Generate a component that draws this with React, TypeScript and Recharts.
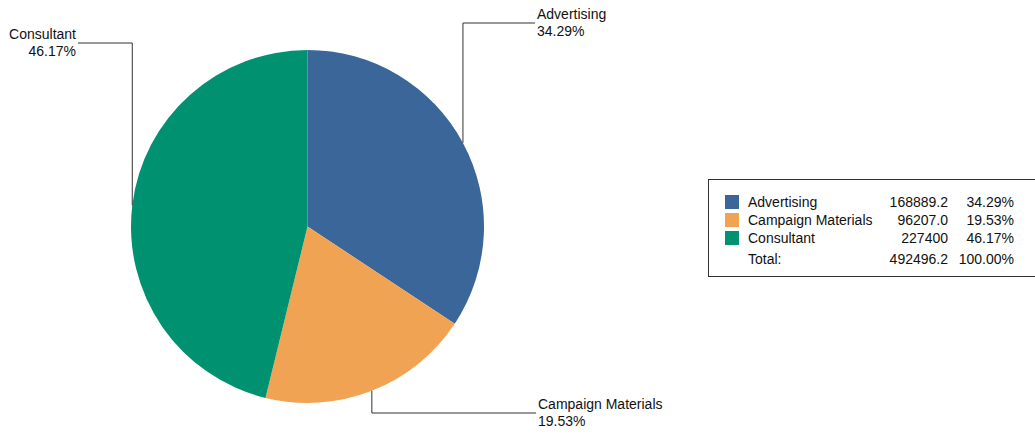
import { PieChart, Pie, Cell } from "recharts";

const categories = ["Advertising", "Campaign Materials", "Consultant"];
const amounts = [168889.2, 96207.0, 227400];
const amountLabels = ["168889.2", "96207.0", "227400"];
const colors = ["#3b6699", "#f0a453", "#009270"];

// how far the leader line runs: vertical end (y) and horizontal end (x)
const leaderEnds = [
  { y: 23, x: 535 },
  { y: 413, x: 536 },
  { y: 43, x: 78 },
];

const total = amounts.reduce((a, b) => a + b, 0);
const data = categories.map((name, i) => ({
  name,
  value: amounts[i],
  pct: ((amounts[i] / total) * 100).toFixed(2) + "%",
}));

const RADIAN = Math.PI / 180;
const font = "'Liberation Sans', Arial, sans-serif";

function renderLabel(props: any) {
  const { cx, cy, outerRadius, midAngle, index, payload } = props;
  const x0 = cx + outerRadius * Math.cos(-midAngle * RADIAN);
  const y0 = cy + outerRadius * Math.sin(-midAngle * RADIAN);
  const end = leaderEnds[index];
  const right = end.x > x0;
  const tx = right ? end.x + 2 : end.x - 2;
  return (
    <g key={`lbl-${index}`}>
      <polyline
        points={`${x0},${y0} ${x0},${end.y} ${end.x},${end.y}`}
        fill="none"
        stroke="#333"
        strokeWidth={1}
      />
      <text
        x={tx}
        y={end.y - 4}
        textAnchor={right ? "start" : "end"}
        fontSize={14}
        fill="#111"
        fontFamily={font}
      >
        {payload.name}
      </text>
      <text
        x={tx}
        y={end.y + 13}
        textAnchor={right ? "start" : "end"}
        fontSize={14}
        fill="#111"
        fontFamily={font}
      >
        {payload.pct}
      </text>
    </g>
  );
}

function LegendBox() {
  const cell: React.CSSProperties = { padding: 0, height: 18, lineHeight: "18px" };
  const last: React.CSSProperties = { ...cell, height: 24, lineHeight: "24px" };
  return (
    <div
      style={{
        position: "absolute",
        left: 708,
        top: 179,
        width: 335,
        height: 98,
        border: "1px solid #333",
        boxSizing: "border-box",
        fontFamily: font,
        fontSize: 14,
        color: "#111",
        background: "#fff",
      }}
    >
      <table style={{ borderCollapse: "collapse", marginLeft: 16, marginTop: 13 }}>
        <tbody>
          {data.map((d, i) => (
            <tr key={d.name}>
              <td style={{ ...cell, width: 23 }}>
                <div style={{ width: 14, height: 14, background: colors[i] }} />
              </td>
              <td style={{ ...cell, width: 128 }}>{d.name}</td>
              <td style={{ ...cell, width: 72, textAlign: "right" }}>{amountLabels[i]}</td>
              <td style={{ ...cell, width: 66, textAlign: "right" }}>{d.pct}</td>
            </tr>
          ))}
          <tr>
            <td style={last} />
            <td style={last}>Total:</td>
            <td style={{ ...last, textAlign: "right" }}>{total.toFixed(1)}</td>
            <td style={{ ...last, textAlign: "right" }}>100.00%</td>
          </tr>
        </tbody>
      </table>
    </div>
  );
}

export default function App() {
  return (
    <div
      style={{
        position: "absolute",
        left: 0,
        top: 0,
        width: 1035,
        height: 436,
        overflow: "hidden",
        background: "#fff",
      }}
    >
      <PieChart width={1035} height={436} margin={{ top: 0, right: 0, bottom: 0, left: 0 }}>
        <Pie
          data={data}
          dataKey="value"
          nameKey="name"
          cx={307.5}
          cy={226.5}
          outerRadius={176.5}
          startAngle={90}
          endAngle={-270}
          stroke="none"
          label={renderLabel}
          labelLine={false}
          isAnimationActive={false}
        >
          {data.map((d, i) => (
            <Cell key={d.name} fill={colors[i]} />
          ))}
        </Pie>
      </PieChart>
      <LegendBox />
    </div>
  );
}
